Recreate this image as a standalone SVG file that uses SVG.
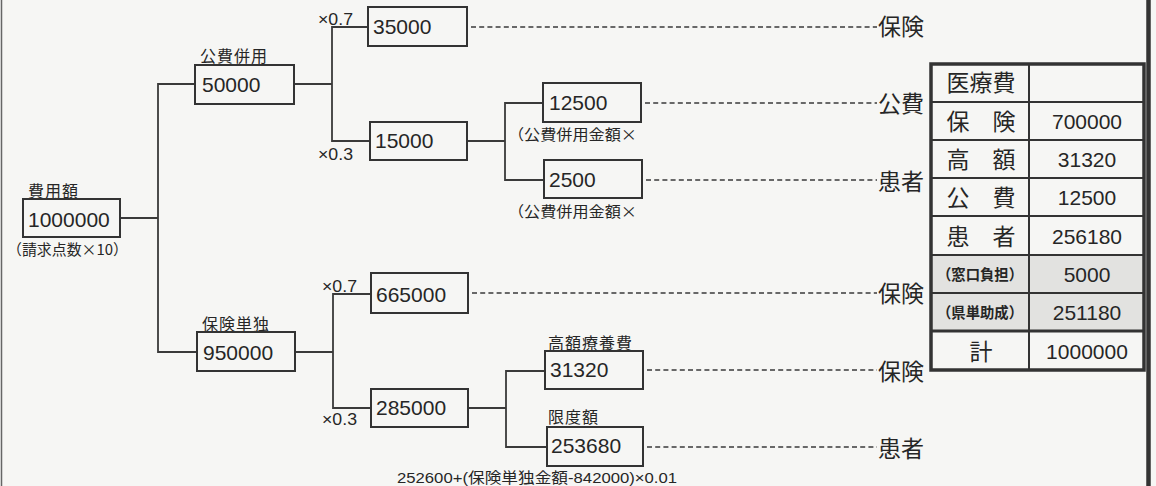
<svg xmlns="http://www.w3.org/2000/svg" width="1156" height="486" viewBox="0 0 1156 486">
<style>
.t{font-family:"Liberation Sans","Noto Sans CJK JP",sans-serif;fill:#262626}
.c{font-family:"Noto Sans CJK JP","Liberation Sans",sans-serif;fill:#262626}
.n{font-size:21px}
.l{font-size:16px;letter-spacing:1px}
.s{font-size:15px}
.x{font-size:16px}
.d{font-size:23px}
.box{fill:none;stroke:#333;stroke-width:2}
.ln{fill:none;stroke:#3a3a3a;stroke-width:1.8}
.dash{fill:none;stroke:#3a3a3a;stroke-width:1.6;stroke-dasharray:5 3.2}
.tb{fill:none;stroke:#333;stroke-width:2}
.tc{text-anchor:middle}
</style>
<rect x="0" y="0" width="1156" height="486" fill="#f6f6f4"/>
<line x1="1.5" y1="0" x2="1.5" y2="486" stroke="#666" stroke-width="1.5"/>
<line x1="1148.5" y1="0" x2="1148.5" y2="486" stroke="#333" stroke-width="4.5"/>

<g id="connectors">
<polyline class="ln" points="120,218 158,218"/>
<polyline class="ln" points="195,84 158,84 158,352 197,352"/>
<polyline class="ln" points="294,84 332,84"/>
<polyline class="ln" points="368,27 332,27 332,141 370,141"/>
<polyline class="ln" points="467,141 505,141"/>
<polyline class="ln" points="543,103 505,103 505,180 544,180"/>
<polyline class="ln" points="295,352 333,352"/>
<polyline class="ln" points="371,294 333,294 333,408 371,408"/>
<polyline class="ln" points="468,408 506,408"/>
<polyline class="ln" points="545,371 506,371 506,447 547,447"/>
<line class="dash" x1="471" y1="27" x2="877" y2="27"/>
<line class="dash" x1="645" y1="103" x2="877" y2="103"/>
<line class="dash" x1="646" y1="180" x2="877" y2="180"/>
<line class="dash" x1="472" y1="293" x2="877" y2="293"/>
<line class="dash" x1="647" y1="370" x2="877" y2="370"/>
<line class="dash" x1="647" y1="447" x2="877" y2="447"/>
<text class="t x" x="318" y="25" textLength="35" lengthAdjust="spacingAndGlyphs">×0.7</text>
<text class="t x" x="318" y="160" textLength="35" lengthAdjust="spacingAndGlyphs">×0.3</text>
<text class="t x" x="322" y="292" textLength="35" lengthAdjust="spacingAndGlyphs">×0.7</text>
<text class="t x" x="322" y="425" textLength="35" lengthAdjust="spacingAndGlyphs">×0.3</text>
</g>

<g id="root">
<text class="c l" x="28" y="197">費用額</text>
<rect class="box" x="23" y="199" width="97" height="38"/>
<text class="t n" x="28" y="227">1000000</text>
<text class="c s" x="7" y="255" textLength="121" lengthAdjust="spacingAndGlyphs">（請求点数×10）</text>
</g>

<g id="kouhi-heiyou">
<text class="c l" x="200" y="62">公費併用</text>
<rect class="box" x="195" y="65" width="99" height="39"/>
<text class="t n" x="202" y="92">50000</text>
</g>

<g id="n35000">
<rect class="box" x="368" y="7" width="99" height="39"/>
<text class="t n" x="373" y="34">35000</text>
</g>

<g id="n15000">
<rect class="box" x="370" y="122" width="97" height="38"/>
<text class="t n" x="375" y="148">15000</text>
</g>

<g id="n12500">
<rect class="box" x="543" y="83" width="98" height="39"/>
<text class="t n" x="549" y="110">12500</text>
<text class="c s" x="508" y="140" textLength="129" lengthAdjust="spacingAndGlyphs">（公費併用金額×</text>
</g>

<g id="n2500">
<rect class="box" x="544" y="160" width="98" height="38"/>
<text class="t n" x="549" y="187">2500</text>
<text class="c s" x="508" y="217" textLength="129" lengthAdjust="spacingAndGlyphs">（公費併用金額×</text>
</g>

<g id="hoken-tandoku">
<text class="c l" x="202" y="330">保険単独</text>
<rect class="box" x="197" y="332" width="98" height="39"/>
<text class="t n" x="203" y="360">950000</text>
</g>

<g id="n665000">
<rect class="box" x="371" y="273" width="97" height="40"/>
<text class="t n" x="376" y="302">665000</text>
</g>

<g id="n285000">
<rect class="box" x="371" y="389" width="97" height="38"/>
<text class="t n" x="376" y="415">285000</text>
</g>

<g id="n31320">
<text class="c l" x="548" y="349">高額療養費</text>
<rect class="box" x="545" y="351" width="98" height="38"/>
<text class="t n" x="550" y="377">31320</text>
</g>

<g id="n253680">
<text class="c l" x="548" y="423">限度額</text>
<rect class="box" x="547" y="427" width="96" height="39"/>
<text class="t n" x="551" y="453">253680</text>
<text class="t s" x="397" y="483" textLength="280" lengthAdjust="spacingAndGlyphs">252600+(保険単独金額-842000)×0.01</text>
</g>

<g id="labels">
<text class="c d" x="878" y="35">保険</text>
<text class="c d" x="878" y="112">公費</text>
<text class="c d" x="878" y="190">患者</text>
<text class="c d" x="878" y="302">保険</text>
<text class="c d" x="878" y="380">保険</text>
<text class="c d" x="878" y="457">患者</text>
</g>

<g id="table">
<rect x="931" y="255" width="213" height="76" fill="#e2e2e0"/>
<line class="tb" x1="931" y1="102" x2="1144" y2="102"/>
<line class="tb" x1="931" y1="140" x2="1144" y2="140"/>
<line class="tb" x1="931" y1="178" x2="1144" y2="178"/>
<line class="tb" x1="931" y1="216" x2="1144" y2="216"/>
<line class="tb" x1="931" y1="255" x2="1144" y2="255"/>
<line class="tb" x1="931" y1="293" x2="1144" y2="293"/>
<line x1="931" y1="331" x2="1144" y2="331" stroke="#333" stroke-width="3.2"/>
<line class="tb" x1="1029" y1="63" x2="1029" y2="370"/>
<rect x="931" y="64" width="213" height="306" fill="none" stroke="#333" stroke-width="3.5"/>
<text class="c d tc" x="981" y="91">医療費</text>
<text class="c d tc" x="981" y="130">保　険</text>
<text class="t n tc" x="1087" y="129">700000</text>
<text class="c d tc" x="981" y="168">高　額</text>
<text class="t n tc" x="1087" y="167">31320</text>
<text class="c d tc" x="981" y="206">公　費</text>
<text class="t n tc" x="1087" y="205">12500</text>
<text class="c d tc" x="981" y="245">患　者</text>
<text class="t n tc" x="1087" y="244">256180</text>
<text class="c s tc" x="980" y="280" font-weight="bold" textLength="86" lengthAdjust="spacingAndGlyphs">（窓口負担）</text>
<text class="t n tc" x="1087" y="282">5000</text>
<text class="c s tc" x="980" y="318" font-weight="bold" textLength="86" lengthAdjust="spacingAndGlyphs">（県単助成）</text>
<text class="t n tc" x="1087" y="320">251180</text>
<text class="c d tc" x="981" y="360">計</text>
<text class="t n tc" x="1087" y="359">1000000</text>
</g>
</svg>
